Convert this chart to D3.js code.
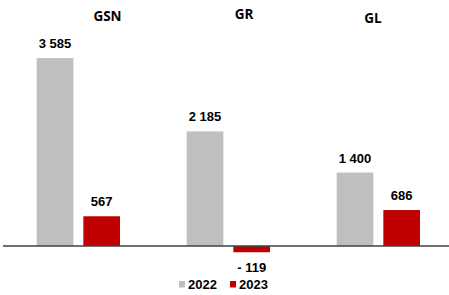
<!DOCTYPE html>
<html><head><meta charset="utf-8">
<script src="https://cdn.jsdelivr.net/npm/d3@7"></script>
<style>body{margin:0;background:#fff;}svg{display:block;}</style>
</head><body>
<svg id="c" width="449" height="295"></svg>
<script>
const categories = ["GSN", "GR", "GL"];
const seriesNames = ["2022", "2023"];
const values2022 = [3585, 2185, 1400];
const values2023 = [567, -119, 686];
const labels2022 = ["3 585", "2 185", "1 400"];
const labels2023 = ["567", "- 119", "686"];
const colors = ["#BFBFBF", "#C00000"];

// layout (not data): header label placement relative to group centres
const headerDx = [29.5, 16, -5];
const headerY = [20.7, 19, 22.7];

const svg = d3.select("#c");
const baseY = 246;
const y = d3.scaleLinear().domain([0, 3585]).range([baseY, 58]);
const x0 = d3.scaleBand().domain(categories).range([3, 453]).padding(0);
const x1 = d3.scaleBand().domain(seriesNames).range([33.7, 117]).paddingInner(10/46.7).paddingOuter(0);
const color = d3.scaleOrdinal().domain(seriesNames).range(colors);

const rows = categories.map((c, i) => ({
  cat: c,
  vals: [
    {s: "2022", v: values2022[i], l: labels2022[i]},
    {s: "2023", v: values2023[i], l: labels2023[i]}
  ]
}));

const g = svg.append("g");
const grp = g.selectAll("g.grp").data(rows).join("g")
  .attr("transform", d => `translate(${x0(d.cat)},0)`);

grp.selectAll("rect").data(d => d.vals).join("rect")
  .attr("x", d => x1(d.s))
  .attr("width", x1.bandwidth())
  .attr("y", d => y(Math.max(0, d.v)))
  .attr("height", d => Math.abs(y(d.v) - y(0)))
  .attr("fill", d => color(d.s));

grp.selectAll("text.val").data(d => d.vals).join("text")
  .attr("class", "val")
  .attr("x", d => x1(d.s) + x1.bandwidth()/2)
  .attr("y", d => d.v >= 0 ? y(d.v) - 10 : y(d.v) + 19.5)
  .attr("text-anchor", "middle")
  .attr("font-family", "Liberation Sans, Arial, sans-serif")
  .attr("font-weight", "bold")
  .attr("font-size", 13)
  .attr("fill", "#000")
  .text(d => d.l);

// axis baseline
svg.append("line")
  .attr("x1", 3).attr("x2", 449)
  .attr("y1", y(0)).attr("y2", y(0))
  .attr("stroke", "#404040").attr("stroke-width", 1.3);

// category headers
svg.selectAll("text.cat").data(categories).join("text")
  .attr("class", "cat")
  .attr("x", (d, i) => x0(d) + x0.bandwidth()/2 + headerDx[i])
  .attr("y", (d, i) => headerY[i])
  .attr("text-anchor", "middle")
  .attr("font-family", "Open Sans, sans-serif")
  .attr("font-weight", "bold")
  .attr("font-size", 13.5)
  .attr("fill", "#000")
  .text(d => d);

// legend
const leg = svg.append("g").attr("transform", "translate(179,281)");
const legX = [0, 51];
seriesNames.forEach((s, i) => {
  const lg = leg.append("g").attr("transform", `translate(${legX[i]},0)`);
  lg.append("rect").attr("x", 0).attr("y", 0).attr("width", 6).attr("height", 6.5).attr("fill", colors[i]);
  lg.append("text").attr("x", 9).attr("y", 8)
    .attr("font-family", "Liberation Sans, Arial, sans-serif")
    .attr("font-weight", "bold").attr("font-size", 13).attr("fill", "#000")
    .text(s);
});
</script>
</body></html>
